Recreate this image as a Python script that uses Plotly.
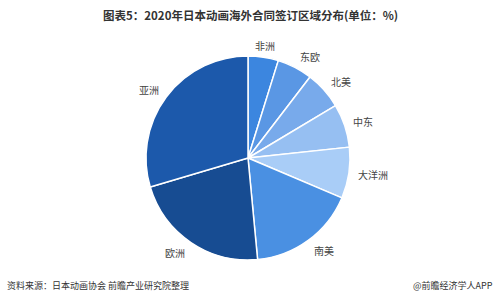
import math
import plotly.graph_objects as go

regions = ["非洲", "东欧", "北美", "中东", "大洋洲", "南美", "欧洲", "亚洲"]
shares = [4.8, 5.6, 6.0, 6.9, 8.1, 17.1, 21.9, 29.6]
colors = ["#3c86df", "#5a97e4", "#78aaeb", "#96bff2", "#a9cdf7", "#4a90e2", "#174c92", "#1c59ab"]

title_text = "图表5：2020年日本动画海外合同签订区域分布(单位：%)"
source_text = "资料来源：日本动画协会 前瞻产业研究院整理"
brand_text = "@前瞻经济学人APP"

W, H = 500, 301
cx, cy, R = 248, 158, 102
font = "Noto Sans CJK SC"

fig = go.Figure(go.Pie(
    labels=regions, values=shares, sort=False, direction="clockwise", rotation=0,
    marker=dict(colors=colors, line=dict(color="white", width=1.5)),
    textinfo="none", hoverinfo="label+value",
    domain=dict(x=[(cx - R) / W, (cx + R) / W], y=[1 - (cy + R) / H, 1 - (cy - R) / H]),
    showlegend=False,
))

total = sum(shares)
cum = 0
annotations = []
for name, v in zip(regions, shares):
    mid = (cum + v / 2) / total * 2 * math.pi
    cum += v
    s, c = math.sin(mid), math.cos(mid)
    px = cx + 1.07 * R * s
    py = cy - 1.12 * R * c
    if s > 0.3:
        xa = "left"
    elif s < -0.3:
        xa = "right"
    else:
        xa = "center"
        px = cx + 1.14 * R * s
    annotations.append(dict(x=px / W, y=1 - py / H, xref="paper", yref="paper", text=name,
                            showarrow=False, xanchor=xa, yanchor="middle",
                            font=dict(size=10, color="#444", family=font)))

annotations.append(dict(x=0.5, y=1 - 15 / H, xref="paper", yref="paper", text="<b>" + title_text + "</b>",
                        showarrow=False, xanchor="center", yanchor="middle",
                        font=dict(size=11.5, color="#333", family=font)))
annotations.append(dict(x=5 / W, y=1 - 285 / H, xref="paper", yref="paper", text=source_text,
                        showarrow=False, xanchor="left", yanchor="middle",
                        font=dict(size=9, color="#333", family=font)))
annotations.append(dict(x=495 / W, y=1 - 285 / H, xref="paper", yref="paper", text=brand_text,
                        showarrow=False, xanchor="right", yanchor="middle",
                        font=dict(size=9, color="#333", family=font)))

fig.update_layout(width=W, height=H, margin=dict(l=0, r=0, t=0, b=0),
                  paper_bgcolor="white", plot_bgcolor="white", annotations=annotations)
fig.write_html("out.html")
